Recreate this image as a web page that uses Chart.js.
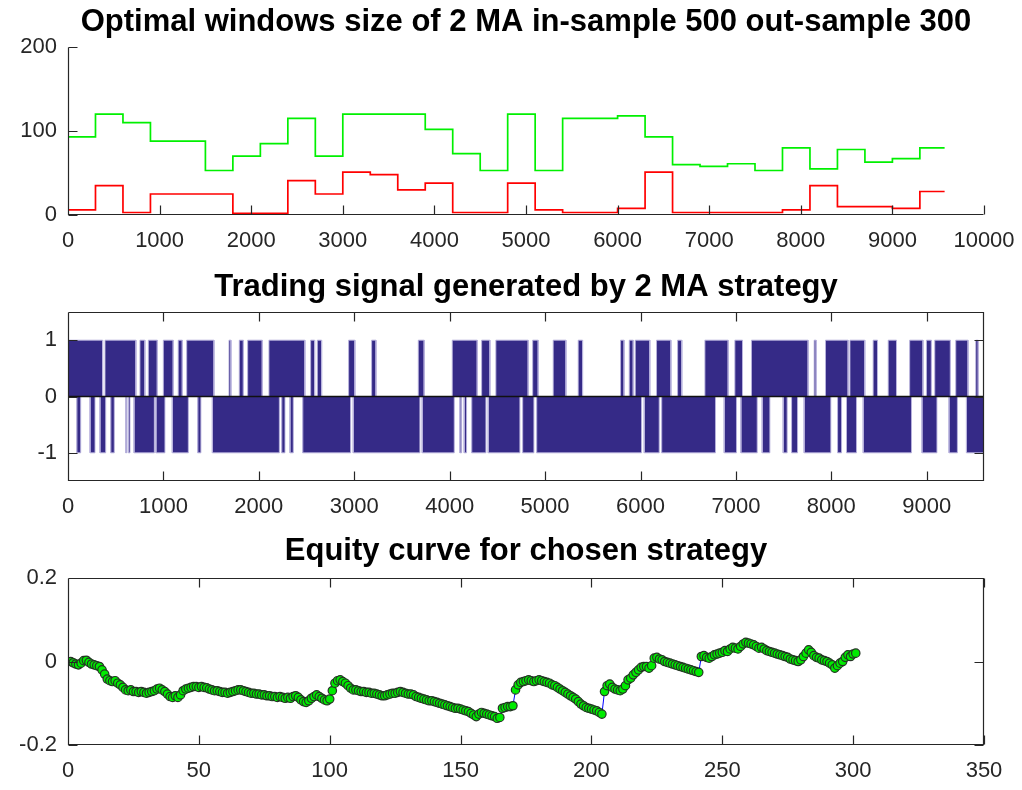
<!DOCTYPE html>
<html><head><meta charset="utf-8">
<script src="https://cdn.jsdelivr.net/npm/chart.js@4/dist/chart.umd.min.js"></script>
<style>
html,body{margin:0;padding:0;background:#fff;}
#wrap{position:relative;width:1022px;height:790px;background:#fff;}
canvas{position:absolute;left:0;}
</style></head><body>
<div id="wrap">
<canvas id="c1" width="1022" height="262" style="top:0;width:1022px;height:262px"></canvas>
<canvas id="c2" width="1022" height="265" style="top:262px;width:1022px;height:265px"></canvas>
<canvas id="c3" width="1022" height="263" style="top:527px;width:1022px;height:263px"></canvas>
</div>
<script>
// ---------- Panel 1: optimal window sizes (stairs) ----------
const winStart = [0,300,600,900,1200,1500,1800,2100,2400,2700,3000,3300,3600,3900,4200,4500,4800,5100,5400,5700,6000,6300,6600,6900,7200,7500,7800,8100,8400,8700,9000,9300,9570];
const longWin  = [93,120,110,88,88,53,70,85,115,70,120,120,120,102,73,53,120,53,115,115,118,93,60,58,61,53,80,55,78,63,67,80,80];
const shortWin = [6,35,3,25,25,25,2,2,41,25,51,48,30,38,3,3,38,6,3,3,8,51,3,3,3,3,6,35,10,10,8,28,28];
const p1XTicks = [0,1000,2000,3000,4000,5000,6000,7000,8000,9000,10000];
const p1YTicks = [0,100,200];

// ---------- Panel 2: trading signal (runs of +1 / -1, sample index) ----------
const signalLen = 9600;
const longRuns = [[0,363],[388,712],[754,806],[842,936],[999,1103],[1155,1198],[1244,1530],[1687,1708],[1795,1838],[1883,2036],[2106,2483],[2543,2585],[2613,2658],[2941,3007],[3182,3228],[3671,3733],[4027,4289],[4335,4422],[4484,4823],[4870,4928],[5085,5219],[5347,5393],[5791,5828],[5882,5924],[5945,6098],[6168,6319],[6389,6433],[6675,6919],[6989,7069],[7163,7757],[7820,7841],[7939,8176],[8195,8351],[8438,8484],[8596,8683],[8821,8961],[8997,9049],[9084,9248],[9304,9433],[9514,9540]];
const shortRuns = [[91,133],[231,283],[335,395],[447,485],[605,615],[632,650],[692,905],[922,1016],[1093,1261],[1359,1393],[1513,2215],[2239,2274],[2326,2361],[2459,2962],[2989,3688],[3712,4048],[4107,4125],[4152,4177],[4230,4380],[4404,4736],[4764,4883],[4911,6011],[6039,6196],[6221,6786],[6877,7006],[7052,7223],[7275,7356],[7495,7537],[7583,7646],[7715,7995],[8065,8107],[8159,8264],[8334,8840],[8950,9107],[9233,9321],[9416,9600]];
const p2XTicks = [0,1000,2000,3000,4000,5000,6000,7000,8000,9000];
const p2YTicks = [-1,0,1];

// ---------- Panel 3: equity curve ----------
const equity = [
 0.000,-0.003,-0.006,-0.008,-0.004,0.002,0.003,-0.002,-0.006,-0.008,
 -0.010,-0.012,-0.020,-0.030,-0.042,-0.046,-0.048,-0.046,-0.052,-0.056,
 -0.062,-0.068,-0.070,-0.068,-0.072,-0.072,-0.074,-0.072,-0.074,-0.076,
 -0.074,-0.072,-0.070,-0.066,-0.064,-0.068,-0.072,-0.078,-0.084,-0.086,
 -0.082,-0.086,-0.080,-0.070,-0.066,-0.064,-0.062,-0.060,-0.060,-0.062,
 -0.060,-0.062,-0.063,-0.066,-0.068,-0.070,-0.070,-0.072,-0.074,-0.074,
 -0.076,-0.074,-0.072,-0.070,-0.068,-0.068,-0.070,-0.072,-0.074,-0.076,
 -0.076,-0.078,-0.078,-0.080,-0.080,-0.082,-0.082,-0.084,-0.084,-0.086,
 -0.084,-0.086,-0.088,-0.086,-0.088,-0.084,-0.082,-0.086,-0.092,-0.096,
 -0.098,-0.094,-0.088,-0.084,-0.080,-0.084,-0.088,-0.092,-0.094,-0.090,
 -0.070,-0.052,-0.046,-0.044,-0.048,-0.052,-0.058,-0.064,-0.068,-0.068,
 -0.070,-0.072,-0.072,-0.074,-0.074,-0.076,-0.076,-0.078,-0.080,-0.082,
 -0.082,-0.080,-0.078,-0.076,-0.076,-0.074,-0.072,-0.074,-0.076,-0.078,
 -0.078,-0.080,-0.084,-0.086,-0.088,-0.090,-0.092,-0.094,-0.094,-0.096,
 -0.098,-0.100,-0.102,-0.104,-0.106,-0.108,-0.110,-0.112,-0.112,-0.114,
 -0.116,-0.118,-0.120,-0.124,-0.128,-0.132,-0.126,-0.122,-0.124,-0.126,
 -0.128,-0.130,-0.132,-0.136,-0.134,-0.112,-0.110,-0.108,-0.108,-0.106,
 -0.068,-0.056,-0.050,-0.048,-0.046,-0.044,-0.046,-0.048,-0.046,-0.044,
 -0.046,-0.048,-0.050,-0.052,-0.056,-0.058,-0.062,-0.066,-0.070,-0.074,
 -0.078,-0.082,-0.086,-0.090,-0.096,-0.102,-0.106,-0.110,-0.112,-0.114,
 -0.116,-0.118,-0.122,-0.126,-0.072,-0.058,-0.054,-0.062,-0.066,-0.068,
 -0.070,-0.066,-0.058,-0.044,-0.040,-0.032,-0.026,-0.020,-0.014,-0.012,
 -0.012,-0.016,-0.010,0.008,0.010,0.006,0.004,0.000,-0.002,-0.004,
 -0.006,-0.008,-0.010,-0.012,-0.014,-0.016,-0.018,-0.020,-0.022,-0.024,
 -0.026,0.012,0.014,0.010,0.008,0.012,0.016,0.018,0.020,0.022,
 0.026,0.024,0.030,0.034,0.032,0.030,0.036,0.042,0.046,0.044,
 0.042,0.040,0.036,0.032,0.034,0.030,0.026,0.024,0.022,0.020,
 0.018,0.016,0.014,0.012,0.010,0.006,0.004,0.002,0.000,0.004,
 0.012,0.020,0.028,0.022,0.014,0.010,0.008,0.004,0.002,0.000,
 -0.004,-0.008,-0.016,-0.010,-0.004,0.000,0.010,0.016,0.012,0.018,0.020
];
const p3XTicks = [0,50,100,150,200,250,300,350];
const p3YTicks = [-0.2,0,0.2];

// ---------- styling helpers ----------
const FAMILY = "'Liberation Sans', Arial, Helvetica, sans-serif";
const TICK_FONT = {family: FAMILY, size: 22};
const TITLE_FONT = {family: FAMILY, size: 31, weight: 'bold', lineHeight: 1};

const matlabAxes = {
  id: 'matlabAxes',
  afterDatasetsDraw(chart, args, opts) {
    const {ctx, chartArea: a} = chart;
    const xs = chart.scales.x, ys = chart.scales.y;
    const L = opts.tickLen || 9;
    const l = Math.round(a.left) + 0.5, r = Math.round(a.right) - 0.5;
    const t = Math.round(a.top) + 0.5, b = Math.round(a.bottom) - 0.5;
    ctx.save();
    ctx.strokeStyle = '#262626'; ctx.lineWidth = 1.2;
    ctx.beginPath();
    ctx.moveTo(l, t); ctx.lineTo(l, b); ctx.lineTo(r, b);
    if (opts.box) { ctx.lineTo(r, t); ctx.lineTo(l, t); }
    xs.ticks.forEach(tk => {
      const p = Math.round(xs.getPixelForValue(tk.value)) + 0.5;
      ctx.moveTo(p, b); ctx.lineTo(p, b - L);
      if (opts.box) { ctx.moveTo(p, t); ctx.lineTo(p, t + L); }
    });
    ys.ticks.forEach(tk => {
      const p = Math.round(ys.getPixelForValue(tk.value)) + 0.5;
      ctx.moveTo(l, p); ctx.lineTo(l + L, p);
      if (opts.box) { ctx.moveTo(r, p); ctx.lineTo(r - L, p); }
    });
    ctx.stroke(); ctx.restore();
  }
};
Chart.register(matlabAxes);

function makeOptions(cfg) {
  return {
    responsive: false, animation: false, devicePixelRatio: 1,
    layout: {padding: {left: 0, right: 38, top: 0, bottom: 0}},
    plugins: {
      legend: {display: false}, tooltip: {enabled: false},
      title: {display: true, text: cfg.title, color: '#000', font: TITLE_FONT, padding: cfg.titlePad, fullSize: false},
      matlabAxes: {box: cfg.box, tickLen: 9}
    },
    scales: {
      x: {type: 'linear', min: cfg.xMin, max: cfg.xMax,
          grid: {display: false, drawTicks: false}, border: {display: false},
          afterBuildTicks: s => { s.ticks = cfg.xTicks.map(v => ({value: v})); },
          afterFit: s => { s.height = cfg.xAxisH; s.paddingLeft = 0; s.paddingRight = 0; },
          ticks: {color: '#262626', font: TICK_FONT, padding: 13, maxRotation: 0, autoSkip: false, callback: v => String(v)}},
      y: {type: 'linear', min: cfg.yMin, max: cfg.yMax,
          grid: {display: false, drawTicks: false}, border: {display: false},
          afterBuildTicks: s => { s.ticks = cfg.yTicks.map(v => ({value: v})); },
          afterFit: s => { s.width = 68; },
          ticks: {color: '#262626', font: TICK_FONT, padding: 11, autoSkip: false, callback: v => String(v)}}
    }
  };
}

// ---------- Chart 1 ----------
const toXY = (xs, ys) => xs.map((x, i) => ({x: x, y: ys[i]}));
new Chart(document.getElementById('c1'), {
  type: 'line',
  data: {datasets: [
    {data: toXY(winStart, shortWin), stepped: true, borderColor: 'rgb(255,0,0)', borderWidth: 1.7, pointRadius: 0, fill: false},
    {data: toXY(winStart, longWin), stepped: true, borderColor: 'rgb(0,240,0)', borderWidth: 1.7, pointRadius: 0, fill: false}
  ]},
  options: makeOptions({title: 'Optimal windows size of 2 MA in-sample 500 out-sample 300', titlePad: {top: 6.5, bottom: 9.5},
    xMin: 0, xMax: 10000, xTicks: p1XTicks, yMin: 0, yMax: 200, yTicks: p1YTicks, xAxisH: 47, box: false})
});

// ---------- Chart 2 ----------
function runsToPoints(runs, level) {
  const pts = [];
  runs.forEach(([s, e]) => { pts.push({x: s, y: 0}, {x: s, y: level}, {x: e, y: level}, {x: e, y: 0}); });
  return pts;
}
const SIG = '#352A87';
new Chart(document.getElementById('c2'), {
  type: 'line',
  data: {datasets: [
    {data: [{x: 0, y: 0}, {x: signalLen, y: 0}], borderColor: '#111', borderWidth: 1.5, pointRadius: 0, fill: false},
    {data: runsToPoints(longRuns, 1), borderColor: 'rgba(185,180,222,0.9)', borderWidth: 1, backgroundColor: SIG, fill: 'origin', pointRadius: 0, tension: 0},
    {data: runsToPoints(shortRuns, -1), borderColor: 'rgba(185,180,222,0.9)', borderWidth: 1, backgroundColor: SIG, fill: 'origin', pointRadius: 0, tension: 0}
  ]},
  options: makeOptions({title: 'Trading signal generated by 2 MA strategy', titlePad: {top: 9.5, bottom: 9.5},
    xMin: 0, xMax: signalLen, xTicks: p2XTicks, yMin: -1.5, yMax: 1.5, yTicks: p2YTicks, xAxisH: 46, box: true})
});

// ---------- Chart 3 ----------
new Chart(document.getElementById('c3'), {
  type: 'line',
  data: {datasets: [
    {data: equity.map((v, i) => ({x: i + 1, y: v})), borderColor: 'rgb(0,0,255)', borderWidth: 1,
     pointRadius: 4.2, pointBackgroundColor: 'rgb(0,235,0)', pointBorderColor: '#243424', pointBorderWidth: 1.2, fill: false, tension: 0}
  ]},
  options: makeOptions({title: 'Equity curve for chosen strategy', titlePad: {top: 8.5, bottom: 11.5},
    xMin: 0, xMax: 350, xTicks: p3XTicks, yMin: -0.2, yMax: 0.2, yTicks: p3YTicks, xAxisH: 45, box: true})
});
</script>
</body></html>
